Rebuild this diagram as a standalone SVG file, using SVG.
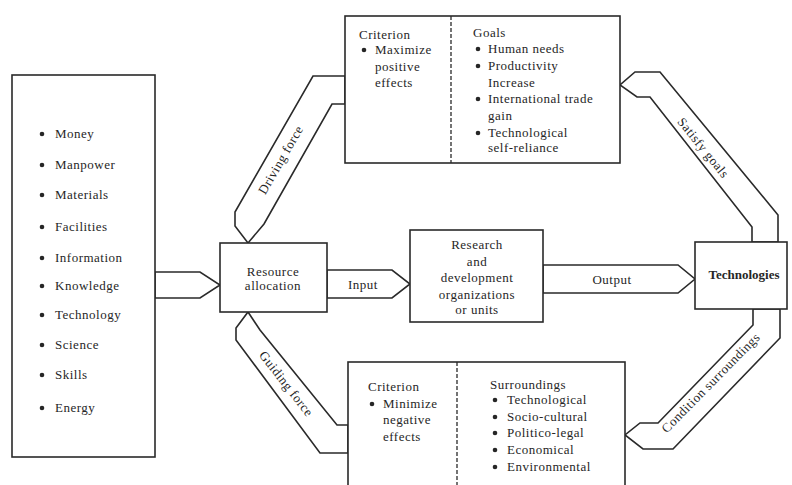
<svg xmlns="http://www.w3.org/2000/svg" width="792" height="485" viewBox="0 0 792 485">
  <style>
    .box { fill: #fff; stroke: #2a2a2a; stroke-width: 1.6; }
    .div { fill: none; stroke: #2a2a2a; stroke-width: 1.3; stroke-dasharray: 4 2; }
    .band { fill: #fff; stroke: #2a2a2a; stroke-width: 1.6; stroke-linejoin: miter; }
    text { font-family: "Liberation Serif", "Times New Roman", serif; font-size: 13px; letter-spacing: 0.5px; fill: #262626; }
    .c { text-anchor: middle; }
    .b { font-weight: bold; letter-spacing: 0; }
    .dot { fill: #262626; }
  </style>

  <rect width="792" height="485" fill="#fff"/>

  <!-- connectors: broad band arrows between the blocks -->
  <g id="connectors">
    <!-- resources to resource allocation -->
    <g id="arrow-resources">
      <polygon class="band" points="155,272 200,272 220,285 200,298 155,298"/>
    </g>
    <!-- input -->
    <g id="arrow-input">
      <polygon class="band" points="327,270 392,270 410,284 392,298 327,298"/>
      <text class="c" x="363" y="289">Input</text>
    </g>
    <!-- output -->
    <g id="arrow-output">
      <polygon class="band" points="543,265 678,265 695,279 678,293 543,293"/>
      <text class="c" x="612" y="284">Output</text>
    </g>
    <!-- driving force: goals block down to resource allocation -->
    <g id="arrow-driving">
      <polygon class="band" points="345,76 313,76 235,212 235,226 248,243 264,224 332,104 345,104"/>
      <text class="c" x="0" y="4" transform="translate(281,160) rotate(-60)">Driving force</text>
    </g>
    <!-- guiding force: surroundings block up to resource allocation -->
    <g id="arrow-guiding">
      <polygon class="band" points="348,453 320,453 236,340 236,328 248,312 260,330 337,425 348,425"/>
      <text class="c" x="0" y="4" transform="translate(286,384) rotate(52)">Guiding force</text>
    </g>
    <!-- satisfy goals: technologies up to goals block -->
    <g id="arrow-satisfy">
      <polygon class="band" points="778,242 778,215 660,72 635,72 620,85 637,97 650,97 752,227 752,242"/>
      <text class="c" x="0" y="4" transform="translate(703,148) rotate(51)">Satisfy goals</text>
    </g>
    <!-- condition surroundings: technologies down to surroundings block -->
    <g id="arrow-condition">
      <polygon class="band" points="780,309 780,338 673,449 643,449 625,435 640,423 658,423 753,325 753,309"/>
      <text class="c" x="0" y="4" transform="translate(711,383) rotate(-45.5)">Condition surroundings</text>
    </g>
  </g>

  <!-- resources -->
  <g id="node-resources">
    <rect class="box" x="12" y="75" width="143" height="382"/>
    <circle class="dot" cx="42" cy="134" r="2.3"/><text x="55" y="138">Money</text>
    <circle class="dot" cx="42" cy="165" r="2.3"/><text x="55" y="169">Manpower</text>
    <circle class="dot" cx="42" cy="195" r="2.3"/><text x="55" y="199">Materials</text>
    <circle class="dot" cx="42" cy="227" r="2.3"/><text x="55" y="231">Facilities</text>
    <circle class="dot" cx="42" cy="258" r="2.3"/><text x="55" y="262">Information</text>
    <circle class="dot" cx="42" cy="286" r="2.3"/><text x="55" y="290">Knowledge</text>
    <circle class="dot" cx="42" cy="315" r="2.3"/><text x="55" y="319">Technology</text>
    <circle class="dot" cx="42" cy="345" r="2.3"/><text x="55" y="349">Science</text>
    <circle class="dot" cx="42" cy="375" r="2.3"/><text x="55" y="379">Skills</text>
    <circle class="dot" cx="42" cy="408" r="2.3"/><text x="55" y="412">Energy</text>
  </g>

  <!-- resource allocation -->
  <g id="node-allocation">
    <rect class="box" x="220" y="243" width="107" height="69"/>
    <text class="c" x="273" y="276">Resource</text>
    <text class="c" x="273" y="290">allocation</text>
  </g>

  <!-- research and development -->
  <g id="node-rnd">
    <rect class="box" x="410" y="230" width="133" height="92"/>
    <text class="c" x="477" y="249">Research</text>
    <text class="c" x="477" y="266">and</text>
    <text class="c" x="477" y="282">development</text>
    <text class="c" x="477" y="299">organizations</text>
    <text class="c" x="477" y="314">or units</text>
  </g>

  <!-- technologies -->
  <g id="node-technologies">
    <rect class="box" x="695" y="242" width="92" height="67"/>
    <text class="c b" x="744" y="279">Technologies</text>
  </g>

  <!-- goals block -->
  <g id="node-goals">
    <rect class="box" x="345" y="16" width="275" height="147"/>
    <line class="div" x1="451" y1="16" x2="451" y2="163"/>
    <text x="359" y="39">Criterion</text>
    <circle class="dot" cx="364" cy="50" r="2.3"/>
    <text x="375" y="54">Maximize</text>
    <text x="375" y="71">positive</text>
    <text x="375" y="87">effects</text>
    <text x="473" y="37">Goals</text>
    <circle class="dot" cx="478" cy="49" r="2.3"/><text x="488" y="53">Human needs</text>
    <circle class="dot" cx="478" cy="66" r="2.3"/><text x="488" y="70">Productivity</text>
    <text x="488" y="87">Increase</text>
    <circle class="dot" cx="478" cy="99" r="2.3"/><text x="488" y="103">International trade</text>
    <text x="488" y="120">gain</text>
    <circle class="dot" cx="478" cy="133" r="2.3"/><text x="488" y="137">Technological</text>
    <text x="488" y="152">self-reliance</text>
  </g>

  <!-- surroundings block (runs off the lower edge) -->
  <g id="node-surroundings">
    <rect class="box" x="348" y="362" width="277" height="140"/>
    <line class="div" x1="457" y1="362" x2="457" y2="490"/>
    <text x="368" y="391">Criterion</text>
    <circle class="dot" cx="372" cy="404" r="2.3"/>
    <text x="383" y="408">Minimize</text>
    <text x="383" y="424">negative</text>
    <text x="383" y="441">effects</text>
    <text x="490" y="389">Surroundings</text>
    <circle class="dot" cx="495" cy="400" r="2.3"/><text x="507" y="404">Technological</text>
    <circle class="dot" cx="495" cy="417" r="2.3"/><text x="507" y="421">Socio-cultural</text>
    <circle class="dot" cx="495" cy="433" r="2.3"/><text x="507" y="437">Politico-legal</text>
    <circle class="dot" cx="495" cy="450" r="2.3"/><text x="507" y="454">Economical</text>
    <circle class="dot" cx="495" cy="467" r="2.3"/><text x="507" y="471">Environmental</text>
  </g>
</svg>
